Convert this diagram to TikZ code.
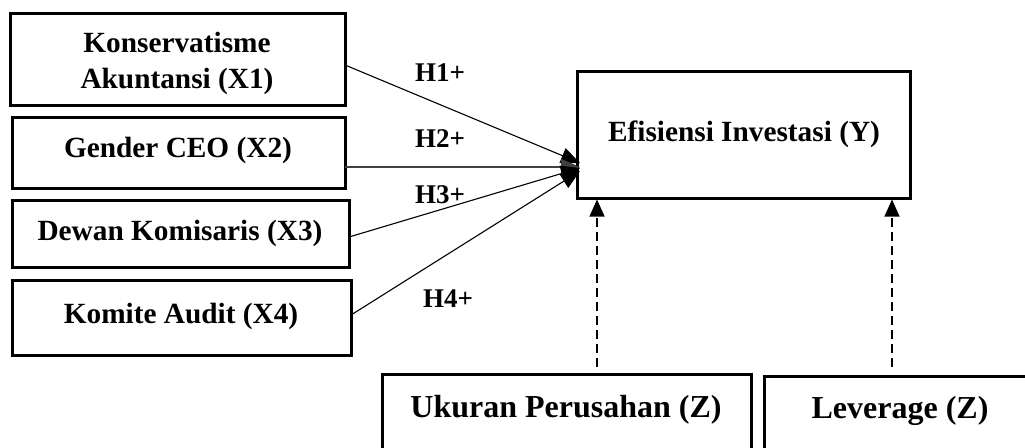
\documentclass[tikz,border=0pt]{standalone}
\usepackage{fontspec}
\setmainfont{Liberation Serif}
\usetikzlibrary{arrows.meta,calc}
\begin{document}
\begin{tikzpicture}[x=1pt,y=-1pt,
  box/.style={draw=black,line width=3pt,inner sep=0pt,minimum width=#1},
  lbl/.style={anchor=base,inner sep=0pt,font=\bfseries\fontsize{29.3}{36}\selectfont},
  hyp/.style={anchor=base west,inner sep=0pt,font=\bfseries\fontsize{27}{32}\selectfont},
  zlbl/.style={anchor=base,inner sep=0pt,font=\bfseries\fontsize{32}{38}\selectfont},
  link/.style={line width=1.1pt,-{Triangle[length=19pt,width=16pt]}},
  dlink/.style={line width=1.1pt,dash pattern=on 9pt off 5pt,-{Triangle[length=17pt,width=15pt]}}]
\useasboundingbox (0,0) rectangle (1025,447);
\clip (0,0) rectangle (1025,447);

% independent variables
\draw[box] (10,13) rectangle (345,105);
\coordinate (x1e) at (345,65);
\node[lbl] (t1a) at (177,52) {Konservatisme};
\node[lbl] (t1b) at (177,88) {Akuntansi (X1)};

\draw[box] (12,117) rectangle (345,188);
\coordinate (x2e) at (345,167);
\node[lbl] (t2) at (178,157) {Gender CEO (X2)};

\draw[box] (12,200) rectangle (349,267);
\coordinate (x3e) at (349,237);
\node[lbl] (t3) at (180,240) {Dewan Komisaris (X3)};

\draw[box] (12,280) rectangle (351,355);
\coordinate (x4e) at (351,315);
\node[lbl] (t4) at (181,323) {Komite Audit (X4)};

% dependent variable
\node[box,minimum width=333pt,minimum height=127pt] (y) at (743.5,134.5) {};
\node[lbl] (ty) at (744,141) {Efisiensi Investasi (Y)};

% control variables
\draw[box] (382,374) rectangle (751,460);
\node[zlbl] (tz1) at (566,417) {Ukuran Perusahan (Z)};
\draw[box] (764,376) rectangle (1040,460);
\node[zlbl] (tz2) at (900,418) {Leverage (Z)};

% hypothesis paths
\coordinate (h1) at (580,163);
\coordinate (h2) at (580,167);
\coordinate (h3) at (580,168);
\coordinate (h4) at (580,171);
\draw[link] (x1e) -- (h1);
\draw[link,line width=1.6pt,draw=black!75] (x2e) -- (h2);
\draw[link] (x3e) -- (h3);
\draw[link] (x4e) -- (h4);

\node[hyp] (hl1) at (415,81) {H1+};
\node[hyp] (hl2) at (415,147) {H2+};
\node[hyp] (hl3) at (415,203) {H3+};
\node[hyp] (hl4) at (423,307) {H4+};

% control paths
\coordinate (c1) at (597,367);
\coordinate (c2) at (892,367);
\draw[dlink] (c1) -- (c1 |- y.south);
\draw[dlink] (c2) -- (c2 |- y.south);
\end{tikzpicture}
\end{document}
